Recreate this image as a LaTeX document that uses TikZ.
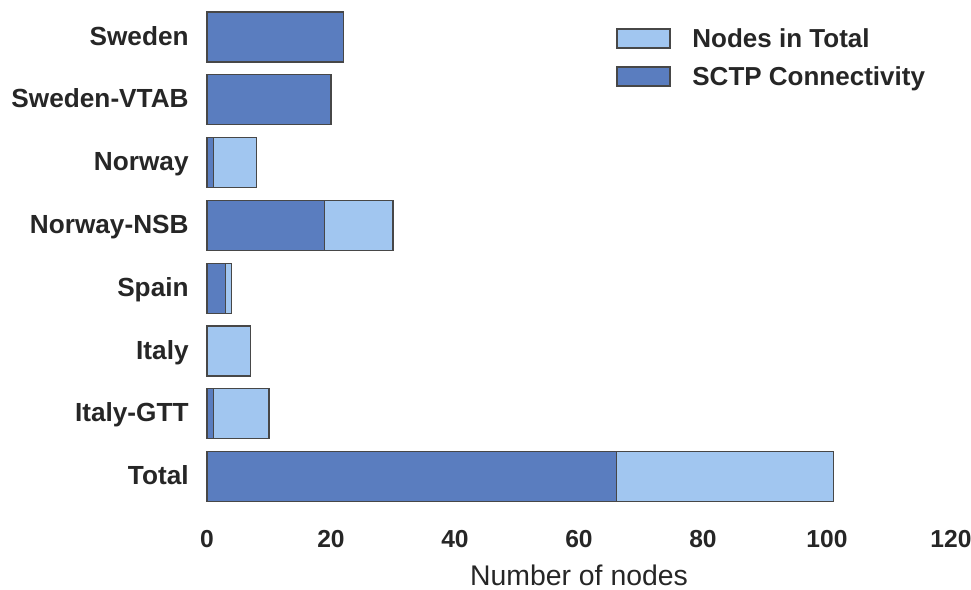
\documentclass[tikz,border=0pt]{standalone}
\usepackage{fontspec}
\setmainfont{Liberation Sans}
\definecolor{totalblue}{HTML}{A1C6F0}
\definecolor{sctpblue}{HTML}{5A7DBF}
\definecolor{inkgray}{HTML}{262626}

\begin{document}
\begin{tikzpicture}[x=0.5pt, y=-0.5pt,
    bar/.style={draw=inkgray!85, line width=0.55pt},
    countrylabel/.style={anchor=base east, inner sep=0pt, text=inkgray,
      font=\fontsize{13.1}{15}\selectfont\bfseries},
    ticklabel/.style={anchor=base, inner sep=0pt, text=inkgray,
      font=\fontsize{12.3}{15}\selectfont\bfseries},
    axislabel/.style={anchor=base, inner sep=0pt, text=inkgray,
      font=\fontsize{14.2}{17}\selectfont},
    legendtext/.style={anchor=base west, inner sep=0pt, text=inkgray,
      font=\fontsize{13.0}{15}\selectfont\bfseries}]
    \useasboundingbox (0,0) rectangle (971,590);

    % First, the bars and their labels (total behind, SCTP in front)
    \foreach \name/\tot/\sctp [count=\i from 0] in {Sweden/22/22,
        Sweden-VTAB/20/20, Norway/8/1, Norway-NSB/30/19, Spain/4/3,
        Italy/7/0, Italy-GTT/10/1, Total/101/66} {
        \pgfmathsetmacro\yc{37+62.8*\i}
        \draw[bar, fill=totalblue] (207,\yc-25) rectangle ({207+6.2*\tot},\yc+25);
        \ifnum\sctp>0
            \draw[bar, fill=sctpblue] (207,\yc-25) rectangle ({207+6.2*\sctp},\yc+25);
        \fi
        \node[countrylabel] (label-\i) at (189,\yc+8) {\name};
    }

    % Now the x axis ticks and its title
    \foreach \v in {0,20,...,120}
        \node[ticklabel] (tick-\v) at ({207+6.2*\v},547) {\v};
    \node[axislabel] (xtitle) at (579,585) {Number of nodes};

    % Legend
    \draw[bar, fill=totalblue] (617,29) rectangle (670,48);
    \draw[bar, fill=sctpblue] (617,67) rectangle (670,86);
    \node[legendtext] (key-total) at (692,47) {Nodes in Total};
    \node[legendtext] (key-sctp) at (692,85) {SCTP Connectivity};
\end{tikzpicture}
\end{document}
